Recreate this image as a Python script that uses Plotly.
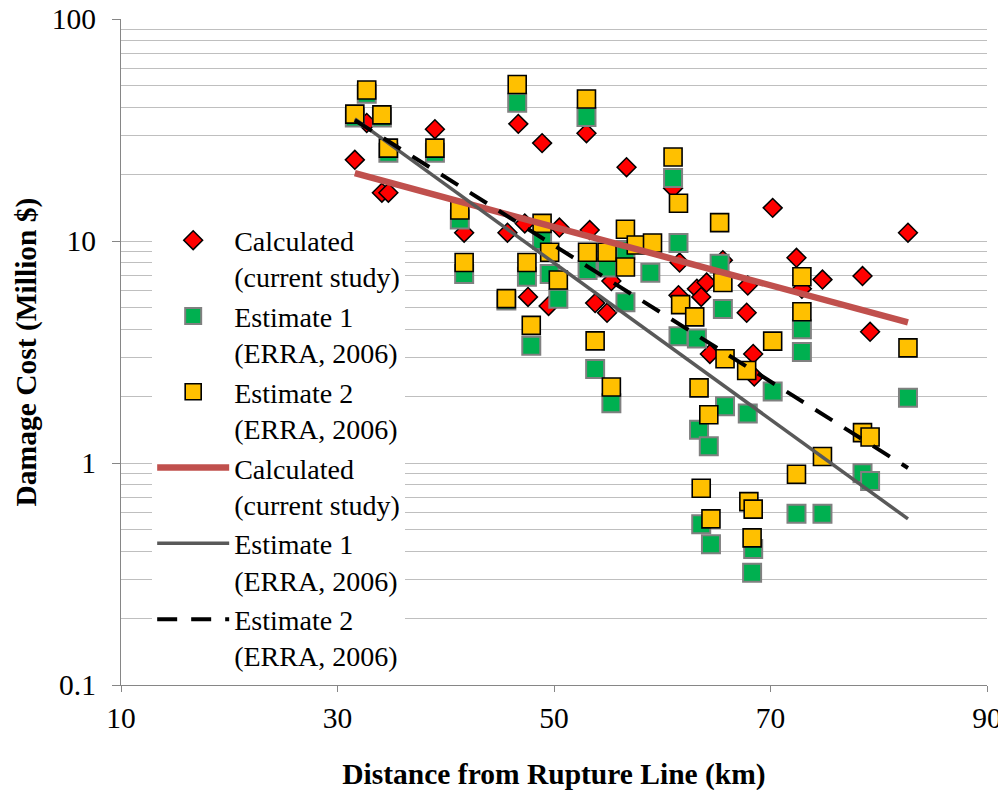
import plotly.graph_objects as go

# ---- data ----
calc_x = [31.6, 32.7, 34.1, 34.7, 39.0, 41.7, 45.7, 46.7, 47.3, 47.6, 48.9, 49.5, 50.5,
          53.0, 53.3, 53.8, 54.9, 55.3, 56.7, 61.0, 61.6, 61.5, 63.2, 64.1, 63.6, 64.4,
          65.6, 67.9, 67.8, 68.4, 68.5, 70.2, 72.4, 72.9, 74.8, 78.5, 79.2, 82.7]
calc_y = [23.2, 34.0, 16.5, 16.5, 31.9, 10.9, 10.9, 33.7, 12.0, 5.6, 27.6, 5.1, 11.5,
          30.6, 11.2, 5.25, 4.75, 6.6, 21.5, 17.3, 8.0, 5.7, 6.1, 6.5, 5.6, 3.1,
          8.2, 6.3, 4.75, 3.1, 2.45, 14.1, 8.4, 6.1, 6.7, 6.95, 3.9, 10.9]

est1_x = [31.6, 32.7, 34.1, 34.7, 39.0, 41.3, 41.7, 45.6, 46.6, 47.5, 47.9, 48.9, 49.6,
          50.4, 53.0, 53.1, 53.8, 54.9, 55.3, 56.6, 56.6, 58.9, 61.0, 61.5, 61.5, 63.2,
          63.4, 63.6, 64.3, 64.5, 65.3, 65.6, 65.8, 67.9, 68.4, 68.3, 70.2, 72.4, 72.9,
          72.9, 74.8, 78.5, 79.2, 82.7]
est1_y = [36.0, 46.0, 36.0, 25.0, 25.0, 12.5, 7.1, 5.4, 41.9, 6.9, 3.37, 10.1, 7.1,
          5.5, 36.2, 7.4, 2.65, 7.6, 1.86, 9.1, 5.3, 7.2, 19.2, 9.8, 3.72, 3.64,
          1.41, 0.53, 1.19, 0.43, 7.9, 4.94, 1.8, 1.67, 0.41, 0.32, 2.1, 0.59, 4.0,
          3.16, 0.59, 0.9, 0.83, 1.97]

est2_x = [31.6, 32.7, 34.1, 34.7, 39.0, 41.3, 41.7, 45.6, 46.6, 47.5, 47.9, 48.9, 49.6,
          50.4, 53.0, 53.1, 53.8, 54.9, 55.3, 56.6, 56.6, 57.6, 59.1, 61.0, 61.5, 61.7,
          63.0, 63.4, 63.6, 64.3, 64.5, 65.3, 65.6, 65.8, 67.8, 68.0, 68.4, 68.3, 70.2,
          72.4, 72.9, 72.9, 74.8, 78.5, 79.2, 82.7]
est2_y = [37.3, 47.9, 37.0, 26.2, 26.2, 13.8, 8.0, 5.5, 50.7, 8.0, 4.17, 12.0, 8.9,
          6.67, 43.6, 8.9, 3.55, 8.9, 2.2, 11.3, 7.64, 9.6, 9.8, 23.9, 14.8, 5.17,
          4.55, 2.18, 0.77, 1.65, 0.56, 12.1, 6.5, 2.95, 2.61, 0.67, 0.62, 0.46, 3.54,
          0.89, 6.9, 4.8, 1.07, 1.37, 1.31, 3.3]

# exponential trend lines (end points)
trend_x = [31.6, 82.7]
trend_calc = [20.2, 4.3]
trend_est1 = [35.5, 0.56]
trend_est2 = [35.0, 0.95]

x_ticks = [10, 30, 50, 70, 90]
y_ticks = [0.1, 1, 10, 100]
y_ticklabels = ["0.1", "1", "10", "100"]
minor_vals = [m * d for d in (0.1, 1, 10) for m in range(2, 10)]

FONT = "Liberation Serif"
FS = 29.5

fig = go.Figure()
fig.add_trace(go.Scatter(
    x=calc_x, y=calc_y, mode="markers", name="Calculated<br>(current study)",
    marker=dict(symbol="diamond", size=14.5, color="#FF0000",
                line=dict(color="#000000", width=1.5))))
fig.add_trace(go.Scatter(
    x=est1_x, y=est1_y, mode="markers", name="Estimate 1<br>(ERRA, 2006)",
    marker=dict(symbol="square", size=18, color="#00B050",
                line=dict(color="#808080", width=2))))
fig.add_trace(go.Scatter(
    x=est2_x, y=est2_y, mode="markers", name="Estimate 2<br>(ERRA, 2006)",
    marker=dict(symbol="square", size=18, color="#FFC000",
                line=dict(color="#000000", width=1.6))))
fig.add_trace(go.Scatter(
    x=trend_x, y=trend_calc, mode="lines", name="Calculated<br>(current study)",
    line=dict(color="#C0504D", width=6.5)))
fig.add_trace(go.Scatter(
    x=trend_x, y=trend_est1, mode="lines", name="Estimate 1<br>(ERRA, 2006)",
    line=dict(color="#595959", width=3.5)))
fig.add_trace(go.Scatter(
    x=trend_x, y=trend_est2, mode="lines", name="Estimate 2<br>(ERRA, 2006)",
    line=dict(color="#000000", width=4, dash="20px,14px")))

fig.update_layout(
    width=1006, height=790,
    margin=dict(l=113, r=27, t=11, b=113, autoexpand=False),
    paper_bgcolor="white", plot_bgcolor="white",
    font=dict(family=FONT, size=FS, color="black"),
    showlegend=True,
    legend=dict(x=0.036, xanchor="left", y=0.705, yanchor="top",
                bgcolor="white", borderwidth=0, itemwidth=72,
                valign="top", font=dict(family=FONT, size=28),
                tracegroupgap=0),
    xaxis=dict(range=[10, 90], tickvals=x_ticks, showgrid=False, zeroline=False,
               showline=True, linecolor="#868686", linewidth=1.3, automargin=False,
               ticks="outside", ticklen=6, tickcolor="#868686",
               tickfont=dict(family=FONT, size=FS), ticklabelstandoff=0,
               ticklabeloverflow="allow",
               title=dict(text="<b>Distance from Rupture Line (km)</b>",
                          font=dict(family=FONT, size=FS), standoff=30)),
    yaxis=dict(type="log", range=[-1, 2], tickvals=y_ticks, ticktext=y_ticklabels,
               showgrid=True, gridcolor="#BFBFBF", gridwidth=1.3, zeroline=False,
               showline=True, linecolor="#868686", linewidth=1.3, automargin=False,
               ticks="outside", ticklen=8, tickcolor="#868686",
               tickfont=dict(family=FONT, size=FS), ticklabelstandoff=10,
               ticklabeloverflow="allow",
               minor=dict(tickvals=minor_vals, showgrid=True, gridcolor="#BFBFBF",
                          gridwidth=1.3, ticks=""),
               title=dict(text="<b>Damage Cost (Million $)</b>",
                          font=dict(family=FONT, size=FS), standoff=6)),
)

fig.write_html("out.html")
